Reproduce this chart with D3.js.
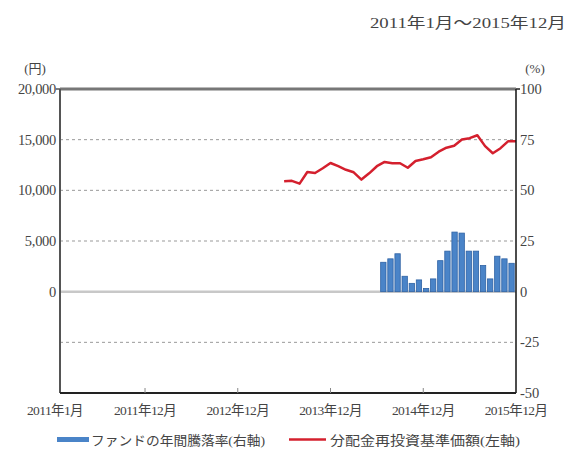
<!DOCTYPE html>
<meta charset="utf-8">
<style>
    body { margin: 0; background: #fff; }
    text {
        font-family: "Liberation Serif", "DejaVu Serif", "Noto Sans CJK JP", serif;
        fill: #444;
    }
    .jp { font-family: "Liberation Serif", "Noto Sans CJK JP", sans-serif; }
</style>
<svg width="572" height="455"></svg>
<script src="https://d3js.org/d3.v7.min.js"></script>
<script>
    // months Jan 2011 .. Dec 2015
    var months = [];
    for (var yr = 2011; yr <= 2015; yr++)
        for (var mo = 1; mo <= 12; mo++) months.push(yr + "-" + mo);

    var tickMonths = ["2011-1", "2011-12", "2012-12", "2013-12", "2014-12", "2015-12"];
    var tickLabels = ["2011年1月", "2011年12月", "2012年12月", "2013年12月", "2014年12月", "2015年12月"];

    // 分配金再投資基準価額 (yen), Jun 2013 .. Dec 2015
    var navMonths = months.slice(29);
    var navValues = [10890, 10940, 10660, 11810, 11710, 12180, 12700, 12380, 12030, 11780,
        11060, 11680, 12380, 12800, 12670, 12670, 12230, 12900, 13070, 13270,
        13810, 14210, 14400, 15020, 15150, 15440, 14360, 13660, 14160, 14850, 14850];

    // ファンドの年間騰落率 (%), Jun 2014 .. Dec 2015
    var retMonths = months.slice(41);
    var retValues = [14.5, 16.2, 18.7, 7.6, 4.1, 5.8, 1.6, 6.3, 15.3, 20,
        29.4, 28.9, 20, 20, 12.9, 6.3, 17.5, 16.2, 14];

    var leftTicks = [0, 5000, 10000, 15000, 20000];
    var rightTicks = [-50, -25, 0, 25, 50, 75, 100];
    var gridTicks = [-5000, 5000, 10000, 15000];

    var svg = d3.select('svg');
    var pLeft = 60, pRight = 516, pTop = 89, pBottom = 393;

    var x = d3.scalePoint().domain(months).range([pLeft, pRight]);
    var yL = d3.scaleLinear().domain([-10000, 20000]).range([pBottom, pTop]);
    var yR = d3.scaleLinear().domain([-50, 100]).range([pBottom, pTop]);
    var xb = d3.scaleBand().domain(retMonths)
        .range([x(retMonths[0]) + 2, pRight]).padding(0.25);

    // gridlines
    svg.append('g').selectAll('line').data(gridTicks).enter().append('line')
        .attr('x1', pLeft).attr('x2', pRight)
        .attr('y1', function(d) { return yL(d); }).attr('y2', function(d) { return yL(d); })
        .attr('stroke', '#999').attr('stroke-width', 1).attr('stroke-dasharray', '3,3');

    svg.append('line').attr('x1', pLeft).attr('x2', pRight)
        .attr('y1', yL(0)).attr('y2', yL(0))
        .attr('stroke', '#c8c8c8').attr('stroke-width', 2.5);

    // bars
    svg.append('g').selectAll('rect').data(retValues).enter().append('rect')
        .attr('x', function(d, i) { return xb(retMonths[i]); })
        .attr('width', xb.bandwidth())
        .attr('y', function(d) { return yR(d); })
        .attr('height', function(d) { return yR(0) - yR(d); })
        .attr('fill', '#4a84c8').attr('stroke', '#2e62a4').attr('stroke-width', 0.8);

    // line
    var line = d3.line()
        .x(function(d, i) { return x(navMonths[i]); })
        .y(function(d) { return yL(d); });
    svg.append('path').datum(navValues).attr('d', line)
        .attr('fill', 'none').attr('stroke', '#d4202e').attr('stroke-width', 2.5)
        .attr('stroke-linejoin', 'round');

    // frame
    svg.append('line').attr('x1', pLeft).attr('x2', pRight).attr('y1', pTop).attr('y2', pTop)
        .attr('stroke', '#777').attr('stroke-width', 3);
    svg.append('line').attr('x1', pLeft).attr('x2', pLeft).attr('y1', pTop).attr('y2', pBottom)
        .attr('stroke', '#555').attr('stroke-width', 2);
    svg.append('line').attr('x1', pRight).attr('x2', pRight).attr('y1', pTop).attr('y2', pBottom)
        .attr('stroke', '#111').attr('stroke-width', 1.5);
    svg.append('line').attr('x1', pLeft).attr('x2', pRight).attr('y1', pBottom).attr('y2', pBottom)
        .attr('stroke', '#222').attr('stroke-width', 2);

    // x ticks (inside)
    svg.append('g').selectAll('line').data(tickMonths.slice(1, 5)).enter().append('line')
        .attr('x1', function(d) { return x(d); }).attr('x2', function(d) { return x(d); })
        .attr('y1', pBottom).attr('y2', pBottom - 5)
        .attr('stroke', '#888').attr('stroke-width', 1);

    svg.append('line').attr('x1', pLeft - 4).attr('x2', pLeft).attr('y1', pTop).attr('y2', pTop)
        .attr('stroke', '#555').attr('stroke-width', 1.5);
    svg.append('line').attr('x1', pRight).attr('x2', pRight + 4).attr('y1', pTop).attr('y2', pTop)
        .attr('stroke', '#222').attr('stroke-width', 1.5);

    // axis labels
    svg.append('g').selectAll('text').data(leftTicks).enter().append('text')
        .attr('x', pLeft - 4).attr('y', function(d) { return yL(d); })
        .attr('dy', '0.35em').attr('text-anchor', 'end').style('font-size', '14.5px')
        .style('letter-spacing', '-0.3px')
        .text(function(d) { return d3.format(',')(d); });

    svg.append('g').selectAll('text').data(rightTicks).enter().append('text')
        .attr('x', pRight + 4).attr('y', function(d) { return yR(d); })
        .attr('dy', '0.35em').style('font-size', '14.5px')
        .text(function(d) { return d; });

    svg.append('g').selectAll('text').data(tickMonths).enter().append('text')
        .attr('class', 'jp')
        .attr('x', function(d, i) { return i === 0 ? x(d) - 5 : x(d); }).attr('y', 415)
        .attr('text-anchor', 'middle').style('font-size', '13.5px').style('letter-spacing', '-0.6px')
        .text(function(d, i) { return tickLabels[i]; });

    svg.append('text').attr('class', 'jp').attr('x', 35).attr('y', 73)
        .attr('text-anchor', 'middle').style('font-size', '13px').text('(円)');
    svg.append('text').attr('x', 535).attr('y', 73)
        .attr('text-anchor', 'middle').style('font-size', '13px').text('(%)');

    svg.append('text').attr('class', 'jp').attr('x', 370).attr('y', 28)
        .style('font-size', '15px').attr('textLength', 196).attr('lengthAdjust', 'spacingAndGlyphs')
        .text('2011年1月～2015年12月');

    // legend
    svg.append('rect').attr('x', 57).attr('y', 437).attr('width', 32).attr('height', 5)
        .attr('fill', '#4a84c8');
    svg.append('text').attr('class', 'jp').attr('x', 91).attr('y', 444.5)
        .style('font-size', '13px').attr('textLength', 174).attr('lengthAdjust', 'spacingAndGlyphs')
        .text('ファンドの年間騰落率(右軸)');
    svg.append('line').attr('x1', 289).attr('x2', 326).attr('y1', 439.5).attr('y2', 439.5)
        .attr('stroke', '#d4202e').attr('stroke-width', 2.5);
    svg.append('text').attr('class', 'jp').attr('x', 330).attr('y', 444.5)
        .style('font-size', '13px').attr('textLength', 190).attr('lengthAdjust', 'spacingAndGlyphs')
        .text('分配金再投資基準価額(左軸)');
</script>
